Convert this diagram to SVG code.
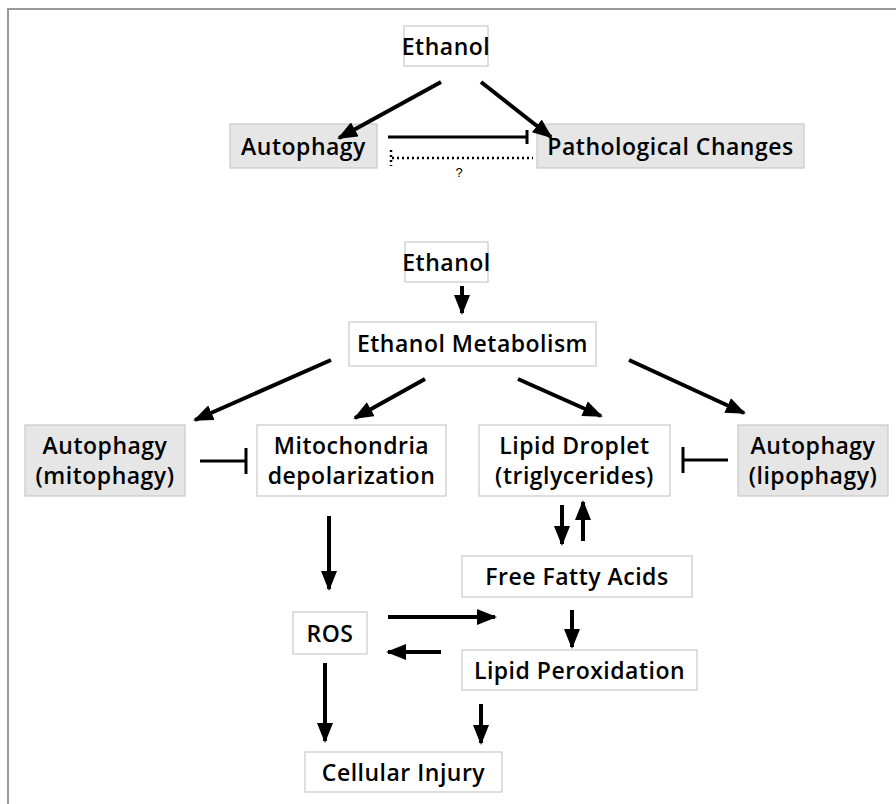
<svg xmlns="http://www.w3.org/2000/svg" width="896" height="804" viewBox="0 0 896 804">
<style>
.box{fill:#ffffff;stroke:#c8c8c8;stroke-width:1.2}
.gbox{fill:#e6e6e6;stroke:#c8c8c8;stroke-width:1.2}
.t{font-family:"Open Sans","DejaVu Sans",sans-serif;font-weight:600;font-size:23px;letter-spacing:0.5px;fill:#000;text-anchor:middle}
.ln{stroke:#000;stroke-width:4;fill:none}
.inh{stroke:#000;stroke-width:3;fill:none}
</style>
<defs>
<marker id="ah" markerUnits="userSpaceOnUse" markerWidth="20" markerHeight="16" viewBox="0 0 20 16" refX="18" refY="8" orient="auto">
<path d="M0,0 L20,8 L0,16 Z" fill="#000"/>
</marker>
</defs>
<rect x="0" y="0" width="896" height="804" fill="#ffffff"/>
<path d="M8,804 L8,9 L896,9" fill="none" stroke="#999" stroke-width="2"/>

<g id="n-ethanol-top"><rect class="box" x="404" y="26" width="84" height="40"/><text class="t" x="446" y="55">Ethanol</text></g>
<g id="n-autophagy-top"><rect class="gbox" x="230" y="124" width="147" height="44"/><text class="t" x="303.5" y="155">Autophagy</text></g>
<g id="n-pathological"><rect class="gbox" x="537" y="124" width="267" height="44"/><text class="t" x="670.5" y="155">Pathological Changes</text></g>
<text x="459" y="177" font-family="Liberation Sans, sans-serif" font-size="13" text-anchor="middle">?</text>

<g id="n-ethanol"><rect class="box" x="405" y="242" width="83" height="40"/><text class="t" x="446.5" y="271">Ethanol</text></g>
<g id="n-metabolism"><rect class="box" x="349" y="322" width="247" height="44"/><text class="t" x="472.5" y="352">Ethanol Metabolism</text></g>
<g id="n-mitophagy"><rect class="gbox" x="25" y="425" width="160" height="71"/><text class="t" x="105" y="454">Autophagy</text><text class="t" x="105" y="484">(mitophagy)</text></g>
<g id="n-mito"><rect class="box" x="257" y="425" width="189" height="71"/><text class="t" x="351.5" y="454">Mitochondria</text><text class="t" x="351.5" y="484">depolarization</text></g>
<g id="n-lipid"><rect class="box" x="479" y="425" width="191" height="71"/><text class="t" x="574.5" y="454">Lipid Droplet</text><text class="t" x="574.5" y="484">(triglycerides)</text></g>
<g id="n-lipophagy"><rect class="gbox" x="738" y="425" width="150" height="71"/><text class="t" x="813" y="454">Autophagy</text><text class="t" x="813" y="484">(lipophagy)</text></g>
<g id="n-ffa"><rect class="box" x="462" y="556" width="230" height="41"/><text class="t" x="577" y="585">Free Fatty Acids</text></g>
<g id="n-ros"><rect class="box" x="293" y="612" width="74" height="42"/><text class="t" x="330" y="642">ROS</text></g>
<g id="n-lpo"><rect class="box" x="462" y="650" width="235" height="40"/><text class="t" x="579.5" y="679">Lipid Peroxidation</text></g>
<g id="n-injury"><rect class="box" x="305" y="752" width="197" height="40"/><text class="t" x="403.5" y="781">Cellular Injury</text></g>

<g id="connectors">
<line class="ln" x1="441" y1="82" x2="339" y2="138" marker-end="url(#ah)"/>
<line class="ln" x1="481" y1="82" x2="551" y2="137" marker-end="url(#ah)"/>
<path class="inh" d="M388,137 L527,137 M527,130 L527,144"/>
<path d="M392,158 L533,158 M391,150 L391,166" fill="none" stroke="#000" stroke-width="2.5" stroke-dasharray="2,3"/>

<line class="ln" x1="462" y1="286" x2="462" y2="313" marker-end="url(#ah)"/>
<line class="ln" x1="331" y1="360" x2="195" y2="420" marker-end="url(#ah)"/>
<line class="ln" x1="425" y1="379" x2="355" y2="418" marker-end="url(#ah)"/>
<line class="ln" x1="518" y1="379" x2="601" y2="416" marker-end="url(#ah)"/>
<line class="ln" x1="629" y1="360" x2="744" y2="413" marker-end="url(#ah)"/>
<path class="inh" d="M200,461 L246,461 M246,448 L246,474"/>
<path class="inh" d="M728,460 L683,460 M683,447 L683,473"/>
<line class="ln" x1="329" y1="516" x2="329" y2="589" marker-end="url(#ah)"/>
<line class="ln" x1="562" y1="505" x2="562" y2="544" marker-end="url(#ah)"/>
<line class="ln" x1="583" y1="541" x2="583" y2="502" marker-end="url(#ah)"/>
<line class="ln" x1="388" y1="617" x2="495" y2="617" marker-end="url(#ah)"/>
<line class="ln" x1="572" y1="610" x2="572" y2="647" marker-end="url(#ah)"/>
<line class="ln" x1="441" y1="652" x2="388" y2="652" marker-end="url(#ah)"/>
<line class="ln" x1="325" y1="663" x2="325" y2="741" marker-end="url(#ah)"/>
<line class="ln" x1="481" y1="704" x2="481" y2="743" marker-end="url(#ah)"/>
</g>
</svg>
